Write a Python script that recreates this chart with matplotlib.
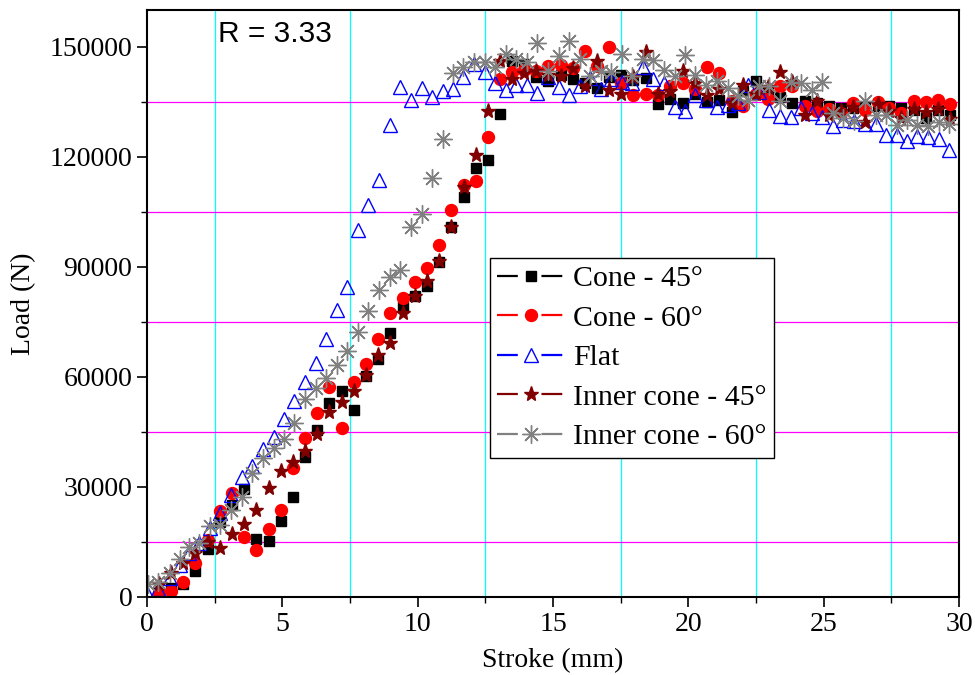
import numpy as np
import matplotlib
matplotlib.use('Agg')
import matplotlib.pyplot as plt
from matplotlib.lines import Line2D
from matplotlib.ticker import MultipleLocator

# stroke positions (mm) of the sampled points
stroke_a = [0.44, 0.89, 1.34, 1.79, 2.24, 2.70, 3.15, 3.60, 4.04, 4.50, 4.94, 5.39, 5.84, 6.29,
            6.73, 7.19, 7.64, 8.09, 8.53, 8.99, 9.44, 9.89, 10.33, 10.79, 11.24, 11.70, 12.14,
            12.59, 13.04, 13.49, 13.93, 14.38, 14.82, 15.28, 15.72, 16.17, 16.61, 17.08, 17.52,
            17.97, 18.43, 18.89, 19.33, 19.80, 20.24, 20.69, 21.13, 21.60, 22.03, 22.50, 22.94,
            23.38, 23.84, 24.31, 24.75, 25.19, 25.64, 26.08, 26.54, 26.99, 27.43, 27.87, 28.33,
            28.78, 29.22, 29.66]
stroke_b = [0.03, 0.42, 0.85, 1.22, 1.56, 1.93, 2.33, 2.70, 3.09, 3.50, 3.89, 4.29, 4.68, 5.06,
            5.44, 5.84, 6.23, 6.61, 7.01, 7.40, 7.78, 8.18, 8.57, 8.97, 9.36, 9.74, 10.15, 10.54,
            10.92, 11.32, 11.68, 12.09, 12.49, 12.86, 13.27, 13.64, 14.03, 14.41, 14.82, 15.21,
            15.59, 15.98, 16.37, 16.76, 17.15, 17.54, 17.93, 18.31, 18.70, 19.09, 19.49, 19.86,
            20.24, 20.64, 21.05, 21.45, 21.84, 22.21, 22.61, 22.98, 23.38, 23.78, 24.15, 24.56,
            24.95, 25.33, 25.72, 26.12, 26.52, 26.92, 27.30, 27.70, 28.09, 28.46, 28.86, 29.27,
            29.64]

cone45 = [1000, 2500, 3460, 7000, 13000, 20500, 24950, 29370, 15870, 15350, 20640, 27350, 38040,
          45540, 52990, 56090, 50910, 60130, 64900, 71860, 79170, 82000, 84810, 91440, 100980,
          109160, 116850, 119170, 131630, 145970, 145350, 141720, 140520, 142350, 141260, 140080,
          138720, 141620, 142350, 141000, 141450, 134360, 135810, 134700, 137000, 135000, 135530,
          132070, 137990, 140710, 138260, 136350, 134700, 135260, 134700, 133900, 133350, 133270,
          133620, 133900, 133900, 133210, 132800, 130540, 132800, 131440]
cone60 = [1000, 1720, 4170, 9350, 15540, 23450, 28280, 16440, 12820, 18620, 23720, 35260, 43280,
          50260, 57350, 46170, 58710, 63540, 70270, 77360, 81450, 85990, 89800, 96000, 105530,
          112350, 113440, 125250, 141260, 142980, 143710, 143440, 144610, 145080, 144170, 148700,
          144610, 149900, 140000, 136710, 137090, 136900, 139160, 140170, 138590, 144400, 142700,
          135070, 133810, 137000, 135620, 139160, 139210, 133700, 132340, 133000, 132000, 134710,
          132800, 134850, 133350, 131980, 135070, 134790, 135450, 134250]
inner45 = [3550, 6630, 9350, 11920, 15000, 13280, 17180, 19910, 23720, 29640, 34440, 36730, 39900,
           44450, 50530, 53260, 56260, 60540, 65990, 69350, 77530, 82080, 86170, 91550, 100980,
           111670, 120530, 132450, 146170, 141170, 142800, 143250, 142160, 142080, 144260, 139270,
           145980, 138260, 137090, 141800, 148430, 137030, 138000, 143440, 140000, 136900, 138530,
           134710, 139620, 137030, 139000, 143170, 140440, 131440, 135070, 131440, 132530, 133430,
           129340, 134440, 132500, 130540, 132890, 132070, 132890, 130350]
flat = [550, 2180, 5180, 8730, 11920, 14640, 18730, 22830, 27820, 32810,
        35720, 40280, 43710, 48460, 53530, 58710, 63890, 70270, 78260, 84450,
        100080, 106710, 113710, 128710, 139000, 135530, 138720, 136270, 137800, 138450,
        141670, 145210, 143170, 140090, 138120, 139430, 139620, 137300, 141670, 138890,
        136710, 139350, 141530, 138450, 141170, 140440, 140030, 144480, 141170, 140090,
        133490, 132590, 136900, 135530, 133540, 134170, 134630, 139620, 137520, 132800,
        130980, 130810, 133270, 131900, 130810, 128440, 130080, 129620, 128990, 128990,
        125990, 125990, 124160, 125530, 125360, 124810, 121710]
inner60 = [3550, 4170, 6630, 10280, 13720, 14640, 19360, 19500, 23720, 27190,
           33900, 37820, 40710, 42950, 47450, 53910, 57050, 59780, 63270, 67030,
           72350, 78070, 83720, 87130, 89260, 100980, 104360, 114180, 124820, 142700,
           144480, 145900, 145900, 144480, 148080, 146710, 145900, 150890, 143440, 147340,
           151430, 146710, 141890, 143250, 143170, 148080, 141890, 146630, 146440, 143710,
           141990, 147720, 142350, 139620, 140710, 138720, 136430, 135530, 139160, 139350,
           135070, 140250, 140090, 138260, 140250, 131900, 130620, 129620, 135070, 131440,
           131440, 128710, 130080, 128710, 128440, 129530, 128990]

plt.rcParams['font.family'] = 'Liberation Serif'
plt.rcParams['lines.scale_dashes'] = False

fig = plt.figure(figsize=(9.75, 6.75), dpi=100)
ax = fig.add_axes([0.1508, 0.1156, 0.8328, 0.8696])

series = [
    (stroke_a, cone45, 'Cone - 45°', dict(marker='s', color='black', ms=6.8)),
    (stroke_a, cone60, 'Cone - 60°', dict(marker='o', color='red', ms=8.6)),
    (stroke_b, flat, 'Flat', dict(marker='^', color='blue', ms=10.5, mfc='none', mew=1.0)),
    (stroke_a, inner45, 'Inner cone - 45°', dict(marker='*', color='#800000', ms=11)),
    (stroke_b, inner60, 'Inner cone - 60°', dict(marker=(8, 2, 0), color='gray', ms=13, mew=1.0)),
]

handles = []
for x, y, lab, st in series:
    ax.plot(x, y, ls='none', **st)
    handles.append(Line2D([], [], ls=(0, (15, 17)), lw=1.6, **st))

ax.set_xlim(0, 30)
ax.set_ylim(0, 160000)
ax.set_xticks(np.arange(0, 31, 5))
ax.set_yticks(np.arange(0, 150001, 30000))
ax.xaxis.set_minor_locator(MultipleLocator(2.5))
ax.yaxis.set_minor_locator(MultipleLocator(15000))
ax.grid(which='minor', axis='x', color='cyan', lw=0.9)
ax.grid(which='minor', axis='y', color='magenta', lw=0.9)
ax.set_axisbelow(True)

ax.tick_params(which='major', direction='out', length=7, width=1.2, labelsize=20)
ax.tick_params(which='minor', direction='out', length=4, width=1.0)
for s in ax.spines.values():
    s.set_linewidth(1.5)

ax.set_xlabel('Stroke (mm)', fontsize=20, labelpad=8)
ax.set_ylabel('Load (N)', fontsize=20, labelpad=10)

ax.text(2.62, 153500, 'R = 3.33', fontsize=21.5, family='Liberation Sans', va='center')

leg = ax.legend(handles, [s[2] for s in series], loc='upper left',
                bbox_to_anchor=(0.4224, 0.5775), borderaxespad=0, fontsize=21.5,
                fancybox=False, edgecolor='black', framealpha=1, numpoints=1,
                handlelength=2.23, handletextpad=0.3, labelspacing=0.42, borderpad=0.25)
leg.get_frame().set_linewidth(1.0)

fig.savefig('out.png', dpi=100)
